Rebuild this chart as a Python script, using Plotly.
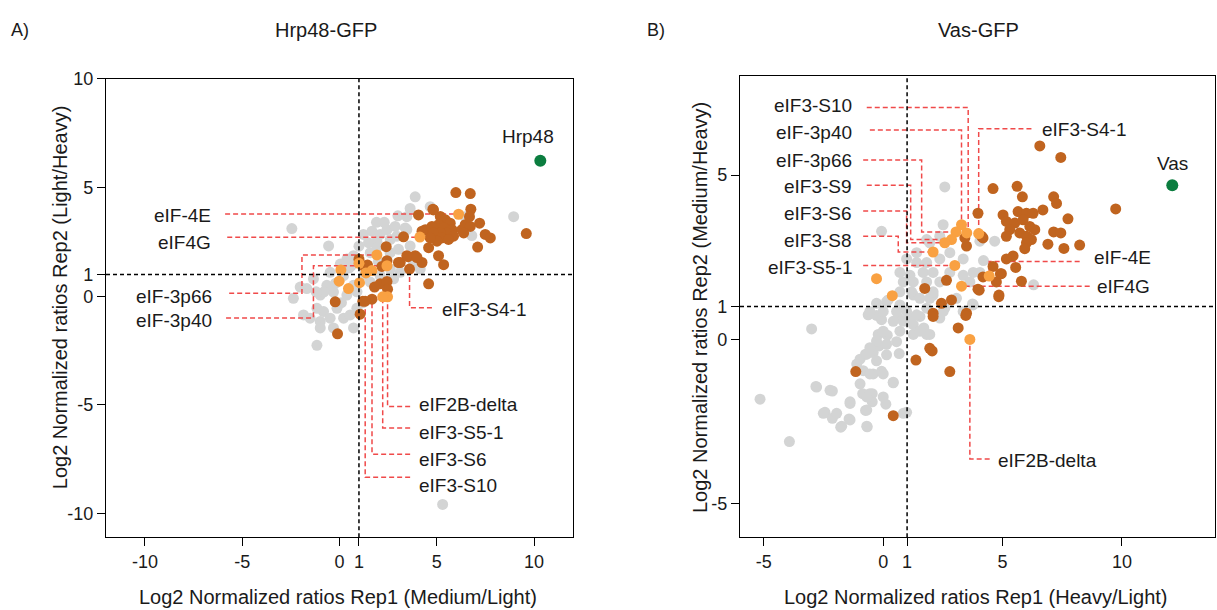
import plotly.graph_objects as go

# ---------------- Panel A (Hrp48-GFP) ----------------
a_gray_x = [3.63, -2.45, -0.56, 1.23, 1.67, 2.09, 2.44, 2.86, 2.95, 3.46, 1.92, 1.49, 2.61, 3.03, 1.92, 1.58,
            0.72, 0.38, 0.04, -0.48, -1.34, -1.68, -2.37, -0.99, -0.65, -0.31, 0.38, 0.72, 0.21, -0.13, -0.82,
            -1.16, -1.85, -0.99, -0.48, 0.21, 0.55, 0.89, -0.31, 0.72, -1.16, 1.58, 2.09, 2.78, 2.61, 3.12,
            -2.02, -1.51, 8.95, 3.46, 3.38, 3.63, 3.80, 4.15, 6.80, 6.46, 3.89, 4.66, 5.30, -0.99, 0.50, 1.00,
            2.30, 3.00, 2.00, 1.30, -0.20, 0.90, 1.20, -0.80, 0.10, 1.90, 2.60, -1.20, 0.60]
a_gray_y = [4.04, 3.11, 2.31, 2.84, 2.99, 2.84, 3.06, 3.21, 2.76, 3.06, 2.53, 2.46, 2.61, 2.16, 2.23, 2.00,
            1.86, 1.71, 1.48, 1.10, 0.80, 0.35, -0.10, 0.05, 0.50, 0.19, 0.05, 0.50, 0.95, -0.56, -0.71,
            -0.56, -0.86, -1.16, -1.01, -1.01, -0.86, -0.56, -1.46, -1.46, -2.26, 0.65, 0.95, 0.80, 1.25, 1.10,
            0.42, -1.01, 3.66, 3.66, 3.14, 2.31, 1.55, 1.25, 2.79, 3.66, 4.57, 4.12, -9.58, -1.46, 1.30, 2.30,
            3.40, 3.70, 1.60, 1.00, 0.60, 0.20, -0.30, 0.20, -0.30, 3.40, 2.00, 0.20, 1.40]

a_dark_x = [4.83, 5.18, 5.43, 5.69, 5.09, 4.75, 4.41, 5.35, 5.78, 5.52, 5.18, 4.83, 5.86, 5.26, 5.60, 5.01,
            4.66, 6.29, 6.46, 6.72, 4.24, 5.98, 6.72, 6.75, 6.68, 4.06, 4.80, 9.60, 7.20, 7.49, 7.75, 6.38,
            7.10, 3.29, 4.58, 5.09, 5.35, 3.89, 4.24, 3.46, 4.58, 3.12, 2.40, 3.52, 1.00, 1.44, 2.18, 1.80,
            2.09, 2.44, 2.47, 1.20, -0.22, 1.06, -0.10, 3.98, 2.44, 3.03, 1.23]
a_dark_y = [3.97, 3.67, 3.52, 3.36, 3.29, 3.21, 3.06, 3.14, 3.06, 2.91, 2.91, 2.91, 2.76, 2.68, 2.61, 2.53,
            2.68, 3.06, 3.29, 3.21, 2.99, 4.77, 4.72, 4.00, 3.66, 3.74, 4.00, 2.88, 3.36, 2.84, 2.68, 2.91,
            2.26, 2.73, 2.23, 1.86, 1.45, 1.86, 1.55, 1.86, 0.57, 1.55, 2.28, 1.82, 1.70, 1.43, 1.37, 0.42,
            0.57, 0.68, 0.32, -0.23, -0.26, -0.83, -1.73, 1.78, 1.63, 1.55, 1.40]

a_light_x = [0.07, -0.02, 0.46, 1.03, 1.00, 1.36, 1.67]
a_light_y = [1.21, 0.69, 0.35, 0.62, 1.51, 1.07, 1.18]

a_bait_name = "Hrp48"
a_bait_x = [10.32]
a_bait_y = [6.23]

a_lab_names = ["eIF-4E", "eIF4G", "eIF-3p66", "eIF-3p40", "eIF3-S4-1", "eIF2B-delta", "eIF3-S5-1", "eIF3-S6", "eIF3-S10"]
a_lab_x = [6.12, 4.13, 1.92, 2.44, 3.60, 2.47, 2.22, 1.67, 1.32]
a_lab_y = [3.77, 2.72, 1.90, 1.40, 1.25, -0.03, -0.03, -0.14, -0.23]
a_lab_kind = ["light", "light", "light", "light", "dark", "light", "light", "dark", "dark"]

a_xticks = [-10, -5, 0, 1, 5, 10]
a_yticks = [-10, -5, 0, 1, 5, 10]

# ---------------- Panel B (Vas-GFP) ----------------
b_gray_x = [-3.00, -5.16, -3.93, -2.82, -2.13, -2.44, -2.13, -1.78, -1.39, -1.43, -0.74, -0.67, -0.46, -0.86,
            -0.46, 0.11, 0.42, 0.98, -1.11, -0.97, -0.42, -0.07, -0.74, -0.42, 0.14, -0.17, 0.67, -0.21, 0.17,
            0.56, 0.70, 1.26, 1.82, 1.70, -0.63, -0.28, -0.07, -0.28, 0.21, 0.70, 0.63, 1.12, 1.54, 2.37, 1.26,
            2.09, 2.58, 3.74, 6.30, -0.07, 0.98, 1.40, 1.82, 1.67, 2.09, 1.12, 0.84, 1.26, 1.82, 0.70, 1.19,
            1.54, 1.95, 0.14, -0.56, 0.00, 0.56, 0.98, 1.40, 1.82, 0.42, 0.84, 1.26, 1.54, 0.00, -0.28, -0.56,
            0.14, -0.69, -0.28, -0.84, -0.56, 0.00, 0.42, -0.97, -0.56, -2.23, -2.79, -1.39, -0.69, 0.00, -2.51,
            -1.95, -1.39, -0.69, 0.84, -1.74, -0.69, 2.58, 2.51, 4.05, 4.67, 4.20, 3.77, 4.05, 3.77, 1.95, 2.37,
            2.79, 3.35, 2.79, 3.35, 2.37, 3.63, 2.09, 3.07, 2.51, 3.35, 1.95, 1.40, 1.82, 2.37, 0.70]
b_gray_y = [0.32, -1.82, -3.11, -1.43, -1.57, -2.22, -2.40, -2.67, -1.90, -2.42, -2.16, -2.66, -1.90, -1.65,
            -1.65, -1.97, -1.32, -2.22, -0.75, -0.60, -1.05, -0.97, -0.45, -0.40, -0.47, -0.20, -0.43, 0.15, 0.13,
            -0.07, 0.25, 0.15, 0.15, 0.35, 0.75, 0.73, 0.60, 1.10, 1.20, 1.05, 0.65, 0.65, 0.70, 0.65, 1.35,
            1.35, 0.95, 1.08, 1.66, 3.29, 2.45, 2.34, 2.34, 2.04, 2.04, 1.95, 1.75, 1.75, 1.75, 1.45, 1.45,
            1.25, 1.25, 1.15, 0.85, 0.85, 0.85, 0.85, 0.75, 0.95, 0.55, 0.55, 0.45, 0.25, 0.25, -0.05, -0.25,
            -0.15, -0.45, -0.65, -0.95, -1.05, -1.05, -1.30, -1.35, -1.65, -1.55, -1.45, -1.95, -1.75, -1.75, -2.25,
            -2.25, -2.45, -2.15, -2.25, -2.64, -2.64, 4.64, 3.49, 2.99, 2.99, 2.40, 2.04, 2.04, 1.05, 2.94, 2.45,
            2.64, 2.45, 2.04, 1.95, 1.75, 1.75, 1.45, 1.25, 0.85, 0.85, 0.15, 2.64, 3.04, 3.14, 2.04]

b_dark_x = [6.56, 7.44, 4.60, 5.61, 5.83, 7.14, 7.26, 9.74, 3.97, 5.02, 5.65, 6.00, 6.28, 6.69, 7.74, 5.16,
            5.51, 5.86, 6.14, 6.35, 5.30, 5.72, 5.16, 6.00, 6.21, 7.14, 7.44, 6.00, 5.93, 6.90, 7.57, 8.23,
            3.49, 4.18, 5.44, 5.16, 5.55, 4.60, 4.95, 4.18, 5.79, 4.74, 3.97, 4.85, 2.65, 1.74, 2.86, 2.44,
            3.49, 2.09, 4.02, 4.84, 2.09, 3.46, 3.14, 1.37, 1.95, 2.05, 2.79, -1.15, 0.42, 4.12, 3.42, 4.91]
b_dark_y = [5.89, 5.54, 4.59, 4.66, 4.34, 4.34, 4.14, 3.97, 3.84, 3.79, 3.89, 3.84, 3.84, 3.94, 3.67, 3.59,
            3.54, 3.64, 3.44, 3.34, 3.34, 3.24, 3.14, 3.14, 3.04, 3.27, 3.24, 2.94, 2.76, 2.90, 2.77, 2.87,
            2.84, 3.09, 2.54, 2.45, 2.19, 2.22, 2.00, 1.90, 1.77, 1.75, 1.53, 1.35, 1.80, 1.55, 1.20, 1.10,
            0.80, 0.80, 1.50, 1.30, 0.70, 0.73, 0.35, -0.63, -0.27, -0.35, -0.98, -0.98, -2.32, 3.14, 3.09, 2.00]

b_light_x = [-0.28, 0.38]
b_light_y = [1.85, 1.33]

b_bait_name = "Vas"
b_bait_x = [12.11]
b_bait_y = [4.69]

b_lab_names = ["eIF3-S10", "eIF-3p40", "eIF-3p66", "eIF3-S9", "eIF3-S6", "eIF3-S8", "eIF3-S5-1",
               "eIF3-S4-1", "eIF-4E", "eIF4G", "eIF2B-delta"]
b_lab_x = [3.50, 3.28, 3.05, 2.86, 2.58, 2.09, 3.00, 4.00, 4.44, 3.28, 3.63]
b_lab_y = [3.24, 3.49, 3.27, 3.04, 2.94, 2.66, 2.25, 3.22, 1.93, 1.62, 0.00]
b_lab_kind = ["light"] * 11

b_xticks = [-5, 0, 1, 5, 10]
b_yticks = [-5, 0, 1, 5]

# ---------------- styles ----------------
GRAY = "#d3d4d4"
DARK = "#c0641f"
LIGHT = "#f9a142"
GREEN = "#0b7d3f"
RED = "#f04a4a"
INK = "#1a1a1a"
FONT = "Liberation Sans, Arial, sans-serif"
MS = 11
LABEL_SIZE = 19
TICK_SIZE = 18
AXTITLE_SIZE = 20

# label layout: (side, text_x, text_y, line_start_x, line_y, elbow_x)
a_label_layout = [
    ("left", -6.49, 3.71, -5.88, 3.78, None),
    ("left", -6.49, 2.49, -5.77, 2.71, None),
    ("left", -6.45, 0.00, -5.67, 0.14, -1.93),
    ("left", -6.45, -1.13, -5.83, -1.00, -1.34),
    ("right", 5.18, -0.59, 4.75, -0.53, None),
    ("right", 3.99, -4.98, 3.63, -5.08, None),
    ("right", 3.99, -6.29, 3.63, -6.06, None),
    ("right", 3.99, -7.51, 3.63, -7.27, None),
    ("right", 3.99, -8.73, 3.63, -8.33, None),
]
b_label_layout = [
    ("left", -1.23, 7.13, -0.69, 7.06, 3.56),
    ("left", -1.23, 6.29, -0.56, 6.37, None),
    ("left", -1.23, 5.45, -0.84, 5.46, 1.61),
    ("left", -1.23, 4.64, -0.69, 4.69, 1.15),
    ("left", -1.23, 3.83, -0.84, 3.91, 0.98),
    ("left", -1.23, 3.02, -0.84, 3.14, 0.63),
    ("left", -1.23, 2.19, -0.84, 2.25, None),
    ("right", 6.56, 6.39, 6.21, 6.41, None),
    ("right", 8.76, 2.49, 8.23, 2.37, None),
    ("right", 8.86, 1.60, 8.65, 1.62, None),
    ("right", 4.74, -3.69, 4.46, -3.64, None),
]

fig = go.Figure()
annotations = []
shapes = []


def add_panel(xr, yr, gx, gy, dx, dy, lx, ly, bx, by, bname, bname_pos,
              lab_names, lab_x, lab_y, lab_kind, lab_layout):
    fig.add_trace(go.Scatter(x=gx, y=gy, mode="markers", xaxis=xr, yaxis=yr,
                             marker=dict(color=GRAY, size=MS, line=dict(width=0)), showlegend=False))
    # leader lines
    for name, tx, ty, lay in zip(lab_names, lab_x, lab_y, lab_layout):
        side, txx, tyy, sx, sy, ex = lay
        if ex is None:
            xs = [sx, tx, tx]
            ys = [sy, sy, ty]
        else:
            xs = [sx, ex, ex, tx]
            ys = [sy, sy, ty, ty]
        fig.add_trace(go.Scatter(x=xs, y=ys, mode="lines", xaxis=xr, yaxis=yr,
                                 line=dict(color=RED, width=1.5, dash="5px,3px"),
                                 showlegend=False, hoverinfo="skip"))
        annotations.append(dict(x=txx, y=tyy, xref=xr, yref=yr, text=name, showarrow=False,
                                xanchor="right" if side == "left" else "left", yanchor="middle",
                                font=dict(size=LABEL_SIZE, color=INK, family=FONT)))
    ddx = list(dx) + [x for x, k in zip(lab_x, lab_kind) if k == "dark"]
    ddy = list(dy) + [y for y, k in zip(lab_y, lab_kind) if k == "dark"]
    llx = list(lx) + [x for x, k in zip(lab_x, lab_kind) if k == "light"]
    lly = list(ly) + [y for y, k in zip(lab_y, lab_kind) if k == "light"]
    fig.add_trace(go.Scatter(x=ddx, y=ddy, mode="markers", xaxis=xr, yaxis=yr,
                             marker=dict(color=DARK, size=MS, line=dict(width=0)), showlegend=False))
    fig.add_trace(go.Scatter(x=llx, y=lly, mode="markers", xaxis=xr, yaxis=yr,
                             marker=dict(color=LIGHT, size=MS, line=dict(width=0)), showlegend=False))
    fig.add_trace(go.Scatter(x=bx, y=by, mode="markers", xaxis=xr, yaxis=yr,
                             marker=dict(color=GREEN, size=MS + 1, line=dict(width=0)), showlegend=False))
    annotations.append(dict(x=bname_pos[0], y=bname_pos[1], xref=xr, yref=yr, text=bname, showarrow=False,
                            xanchor="center", yanchor="middle",
                            font=dict(size=LABEL_SIZE, color=INK, family=FONT)))
    # dashed reference lines at 1
    shapes.append(dict(type="line", xref=xr, yref=yr + " domain", x0=1, x1=1, y0=0, y1=1,
                       line=dict(color="black", width=1.5, dash="4px,3px"), layer="above"))
    shapes.append(dict(type="line", xref=xr + " domain", yref=yr, x0=0, x1=1, y0=1, y1=1,
                       line=dict(color="black", width=1.5, dash="4px,3px"), layer="above"))


add_panel("x", "y", a_gray_x, a_gray_y, a_dark_x, a_dark_y, a_light_x, a_light_y,
          a_bait_x, a_bait_y, a_bait_name, (9.70, 7.35),
          a_lab_names, a_lab_x, a_lab_y, a_lab_kind, a_label_layout)
add_panel("x2", "y2", b_gray_x, b_gray_y, b_dark_x, b_dark_y, b_light_x, b_light_y,
          b_bait_x, b_bait_y, b_bait_name, (12.12, 5.34),
          b_lab_names, b_lab_x, b_lab_y, b_lab_kind, b_label_layout)

W, H = 1217, 610


def axis(domain, rng, ticks, anchor):
    return dict(domain=domain, range=rng, tickvals=ticks, ticktext=[str(t) for t in ticks],
                ticks="outside", ticklen=8, tickwidth=1.3, tickcolor="black",
                showline=True, linecolor="black", linewidth=1.3, mirror=True,
                showgrid=False, zeroline=False, anchor=anchor,
                tickfont=dict(size=TICK_SIZE, color=INK, family=FONT))


def px(v):
    return v / W


def py(v):
    return 1 - v / H


fig.update_layout(
    width=W, height=H, margin=dict(l=0, r=0, t=0, b=0),
    paper_bgcolor="white", plot_bgcolor="white",
    xaxis=axis([px(106), px(573)], [-12, 12], a_xticks, "y"),
    yaxis=axis([py(536), py(70)], [-11.09, 10], a_yticks, "x"),
    xaxis2=axis([px(740), px(1215)], [-6, 13.9], b_xticks, "y2"),
    yaxis2=axis([py(536), py(67)], [-6.02, 8.02], b_yticks, "x2"),
    shapes=shapes,
)

titles = [
    dict(x=px(9), y=py(20), text="A)", xanchor="left", size=18),
    dict(x=px(326), y=py(20), text="Hrp48-GFP", xanchor="center", size=20),
    dict(x=px(645), y=py(20), text="B)", xanchor="left", size=18),
    dict(x=px(978), y=py(20), text="Vas-GFP", xanchor="center", size=20),
]
for t in titles:
    annotations.append(dict(x=t["x"], y=t["y"], xref="paper", yref="paper", text=t["text"],
                            showarrow=False, xanchor=t["xanchor"], yanchor="middle",
                            font=dict(size=t["size"], color=INK, family=FONT)))

axis_titles = [
    dict(x=px(338), y=py(597), text="Log2 Normalized ratios Rep1 (Medium/Light)", angle=0),
    dict(x=px(60), y=py(292), text="Log2 Normalized ratios Rep2 (Light/Heavy)", angle=-90),
    dict(x=px(976), y=py(597), text="Log2 Normalized ratios Rep1 (Heavy/Light)", angle=0),
    dict(x=px(700), y=py(303), text="Log2 Normalized ratios Rep2 (Medium/Heavy)", angle=-90),
]
for t in axis_titles:
    annotations.append(dict(x=t["x"], y=t["y"], xref="paper", yref="paper", text=t["text"],
                            showarrow=False, xanchor="center", yanchor="middle", textangle=t["angle"],
                            font=dict(size=AXTITLE_SIZE, color=INK, family=FONT)))

fig.update_layout(annotations=annotations)
fig.write_html("out.html")
